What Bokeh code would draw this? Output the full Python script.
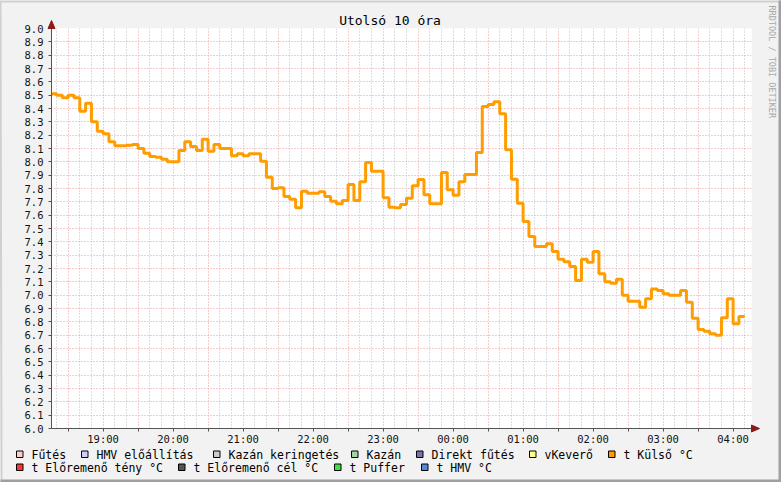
from datetime import datetime, timedelta
from math import pi

from bokeh.plotting import figure
from bokeh.models import (FixedTicker, Range1d, DatetimeTickFormatter, PrintfTickFormatter)
from bokeh.core.properties import value
from bokeh.embed import file_html
from bokeh.resources import INLINE

# ---------------- data ----------------
title_text = "Utolsó 10 óra"
side_text = "RRDTOOL / TOBI OETIKER"

# interval start times (5 minute steps) and outside temperature (t Külső °C)
times = ["18:15", "18:20", "18:25", "18:30", "18:35", "18:40", "18:45", "18:50", "18:55",
         "19:00", "19:05", "19:10", "19:15", "19:20", "19:25", "19:30", "19:35", "19:40", "19:45", "19:50", "19:55",
         "20:00", "20:05", "20:10", "20:15", "20:20", "20:25", "20:30", "20:35", "20:40", "20:45", "20:50", "20:55",
         "21:00", "21:05", "21:10", "21:15", "21:20", "21:25", "21:30", "21:35", "21:40", "21:45", "21:50", "21:55",
         "22:00", "22:05", "22:10", "22:15", "22:20", "22:25", "22:30", "22:35", "22:40", "22:45", "22:50", "22:55",
         "23:00", "23:05", "23:10", "23:15", "23:20", "23:25", "23:30", "23:35", "23:40", "23:45", "23:50", "23:55",
         "00:00", "00:05", "00:10", "00:15", "00:20", "00:25", "00:30", "00:35", "00:40", "00:45", "00:50", "00:55",
         "01:00", "01:05", "01:10", "01:15", "01:20", "01:25", "01:30", "01:35", "01:40", "01:45", "01:50", "01:55",
         "02:00", "02:05", "02:10", "02:15", "02:20", "02:25", "02:30", "02:35", "02:40", "02:45", "02:50", "02:55",
         "03:00", "03:05", "03:10", "03:15", "03:20", "03:25", "03:30", "03:35", "03:40", "03:45", "03:50", "03:55",
         "04:00", "04:05"]
t_kulso = [8.51, 8.50, 8.48, 8.50, 8.48, 8.38, 8.44, 8.30, 8.23,
           8.21, 8.15, 8.12, 8.12, 8.125, 8.13, 8.10, 8.065, 8.04, 8.035, 8.02, 8.00,
           8.00, 8.085, 8.15, 8.115, 8.085, 8.17, 8.08, 8.13, 8.10, 8.10, 8.045, 8.06,
           8.045, 8.06, 8.06, 8.005, 7.885, 7.80, 7.805, 7.74, 7.72, 7.655, 7.78, 7.765,
           7.765, 7.775, 7.74, 7.705, 7.685, 7.71, 7.83, 7.71, 7.85, 7.995, 7.93, 7.93,
           7.73, 7.66, 7.655, 7.68, 7.727, 7.82, 7.868, 7.753, 7.685, 7.685, 7.92, 7.79,
           7.75, 7.85, 7.905, 7.905, 8.07, 8.415, 8.43, 8.45, 8.36, 8.09, 7.87, 7.69,
           7.553, 7.44, 7.365, 7.365, 7.385, 7.327, 7.27, 7.25, 7.215, 7.11, 7.27, 7.247,
           7.327, 7.16, 7.10, 7.09, 7.12, 7.00, 6.955, 6.955, 6.91, 6.973, 7.047, 7.035,
           7.01, 7.00, 7.00, 7.035, 6.947, 6.827, 6.743, 6.73, 6.71, 6.70, 6.83, 6.973,
           6.785, 6.84]
last_time = "04:10"

window_start = "18:15:46"
window_hours = 10

hour_labels = ["19:00", "20:00", "21:00", "22:00", "23:00", "00:00", "01:00", "02:00", "03:00", "04:00"]
y_tick_labels = ["6.0", "6.1", "6.2", "6.3", "6.4", "6.5", "6.6", "6.7", "6.8", "6.9",
                 "7.0", "7.1", "7.2", "7.3", "7.4", "7.5", "7.6", "7.7", "7.8", "7.9",
                 "8.0", "8.1", "8.2", "8.3", "8.4", "8.5", "8.6", "8.7", "8.8", "8.9", "9.0"]

legend_row1 = ["Fűtés", "HMV előállítás", "Kazán keringetés", "Kazán", "Direkt fűtés", "vKeverő", "t Külső °C"]
legend_row1_colors = ["#FFCCCC", "#CCCCFF", "#CCCCCC", "#A0D8A0", "#7F6FB0", "#FFFF88", "#FF9900"]
legend_row2 = ["t Előremenő tény °C", "t Előremenő cél °C", "t Puffer", "t HMV °C"]
legend_row2_colors = ["#FF3333", "#555555", "#44DD44", "#5588DD"]

# ---------------- layout constants (canvas pixels) ----------------
W, H = 781, 482
FRAME_LEFT, FRAME_TOP = 51, 28          # plot area corner
FRAME_W, FRAME_H = 700, 400
ROW1_BOXES = [16, 81, 213, 351, 416, 529, 608]
ROW2_BOXES = [16, 178, 334, 421]
ROW_Y = [454, 467]

# ---------------- helpers ----------------
BASE = datetime(2024, 1, 1)
EPOCH = datetime(1970, 1, 1)


def to_dt(s):
    parts = [int(v) for v in s.split(":")]
    while len(parts) < 3:
        parts.append(0)
    d = BASE + timedelta(hours=parts[0], minutes=parts[1], seconds=parts[2])
    if parts[0] < 12:
        d += timedelta(days=1)
    return d


def ms(d):
    return (d - EPOCH).total_seconds() * 1000.0


x0 = ms(to_dt(window_start))
x1 = x0 + window_hours * 3600 * 1000.0
y0, y1 = float(y_tick_labels[0]), float(y_tick_labels[-1])
px_x = (x1 - x0) / FRAME_W
px_y = (y1 - y0) / FRAME_H


def X(cx):
    return x0 + (cx - FRAME_LEFT) * px_x


def Y(cy):
    return y1 - (cy - FRAME_TOP) * px_y


xs = [ms(to_dt(t)) for t in times] + [ms(to_dt(last_time))]
ys = t_kulso + [t_kulso[-1]]

FONT = "DejaVu Sans Mono"
AXIS_COLOR = "#555555"

p = figure(width=W, height=H, output_backend="svg", toolbar_location=None,
           x_axis_type="datetime",
           x_range=Range1d(x0, x1), y_range=Range1d(y0, y1),
           min_border_left=FRAME_LEFT, min_border_right=W - FRAME_LEFT - FRAME_W,
           min_border_top=FRAME_TOP, min_border_bottom=H - FRAME_TOP - FRAME_H)
p.border_fill_color = "#F2F2F2"
p.background_fill_color = "white"
p.outline_line_color = None

# ---------- ticks ----------
hour_ticks = [ms(to_dt(h)) for h in hour_labels]
half_ticks = [ht - 30 * 60 * 1000.0 for ht in hour_ticks] + [hour_ticks[-1] + 30 * 60 * 1000.0]
half_ticks = [t for t in half_ticks if x0 <= t <= x1]
all_half = sorted(hour_ticks + half_ticks)
ten_min = []
t = all_half[0] - 30 * 60 * 1000.0
while t <= x1:
    if t >= x0 and t not in all_half:
        ten_min.append(t)
    t += 10 * 60 * 1000.0

p.xaxis.ticker = FixedTicker(ticks=hour_ticks, minor_ticks=half_ticks)
p.xaxis.formatter = DatetimeTickFormatter(hours="%H:%M", hourmin="%H:%M", days="%H:%M",
                                          minutes="%H:%M", minsec="%H:%M")
y_ticks = [float(s) for s in y_tick_labels]
p.yaxis.ticker = FixedTicker(ticks=y_ticks)
p.yaxis.formatter = PrintfTickFormatter(format="%.1f")

for ax in (p.xaxis[0], p.yaxis[0]):
    ax.axis_line_color = AXIS_COLOR
    ax.major_tick_line_color = AXIS_COLOR
    ax.minor_tick_line_color = AXIS_COLOR
    ax.major_tick_in = 0
    ax.major_tick_out = 3
    ax.minor_tick_in = 0
    ax.minor_tick_out = 3
    ax.major_label_text_font = FONT
    ax.major_label_text_font_size = "10.5px"
    ax.major_label_text_color = "#111111"
p.yaxis.major_label_standoff = 5
p.xaxis.major_label_standoff = 1
p.yaxis.minor_tick_line_color = None

# ---------- grids ----------
p.xgrid[0].ticker = FixedTicker(ticks=all_half, minor_ticks=ten_min)
p.xgrid.grid_line_color = "#EA9A9A"
p.xgrid.grid_line_dash = "1 2"
p.xgrid.minor_grid_line_color = "#BDBDBD"
p.xgrid.minor_grid_line_dash = "1 2"
p.ygrid.grid_line_color = "#EA9A9A"
p.ygrid.grid_line_dash = "1 2"

# ---------- data line ----------
p.step(x=xs, y=ys, mode="after", line_color="#FF9C00", line_width=3)

# ---------- decorations outside the plot area (overlay level, not clipped) ----------
AR = "#8B1A1A"
p.patch(x=[X(FRAME_LEFT - 3.5), X(FRAME_LEFT + 3.5), X(FRAME_LEFT)],
        y=[Y(FRAME_TOP), Y(FRAME_TOP), Y(FRAME_TOP - 8)],
        fill_color=AR, line_color=AR, level="overlay")
p.patch(x=[X(FRAME_LEFT + FRAME_W), X(FRAME_LEFT + FRAME_W), X(FRAME_LEFT + FRAME_W + 8)],
        y=[Y(FRAME_TOP + FRAME_H - 3.5), Y(FRAME_TOP + FRAME_H + 3.5), Y(FRAME_TOP + FRAME_H)],
        fill_color=AR, line_color=AR, level="overlay")

p.text(x=[X(389.5)], y=[Y(19.5)], text=[title_text], text_font=value(FONT),
       text_font_size="13px", text_color="black", text_align="center",
       text_baseline="middle", level="overlay")
p.text(x=[X(771)], y=[Y(5)], text=[side_text], angle=-pi / 2, text_font=value(FONT),
       text_font_size="8.5px", text_color="#A8A8A8", text_align="left",
       text_baseline="middle", level="overlay")

# ---------- outer 3D border ----------
p.segment(x0=[X(0), X(0)], y0=[Y(1), Y(0)], x1=[X(W), X(1)], y1=[Y(1), Y(H)],
          line_color="#D0D0D0", line_width=2, level="overlay")
p.segment(x0=[X(0), X(W - 1.5)], y0=[Y(H - 1.5), Y(0)], x1=[X(W), X(W - 1.5)], y1=[Y(H - 1.5), Y(H)],
          line_color="#A0A0A0", line_width=3, level="overlay")

# ---------- legend ----------
for labels, colors, boxes, ry in ((legend_row1, legend_row1_colors, ROW1_BOXES, ROW_Y[0]),
                                  (legend_row2, legend_row2_colors, ROW2_BOXES, ROW_Y[1])):
    p.quad(left=[X(b) for b in boxes], right=[X(b + 6.5) for b in boxes],
           top=[Y(ry - 3.5) for _ in boxes], bottom=[Y(ry + 3) for _ in boxes],
           fill_color=colors, line_color="black", line_width=1, level="overlay")
    p.text(x=[X(b + 15) for b in boxes], y=[Y(ry) for _ in boxes], text=labels,
           text_font=value(FONT), text_font_size="11.5px", text_color="black",
           text_align="left", text_baseline="middle", level="overlay")

open("out.html", "w").write(file_html(p, INLINE))
